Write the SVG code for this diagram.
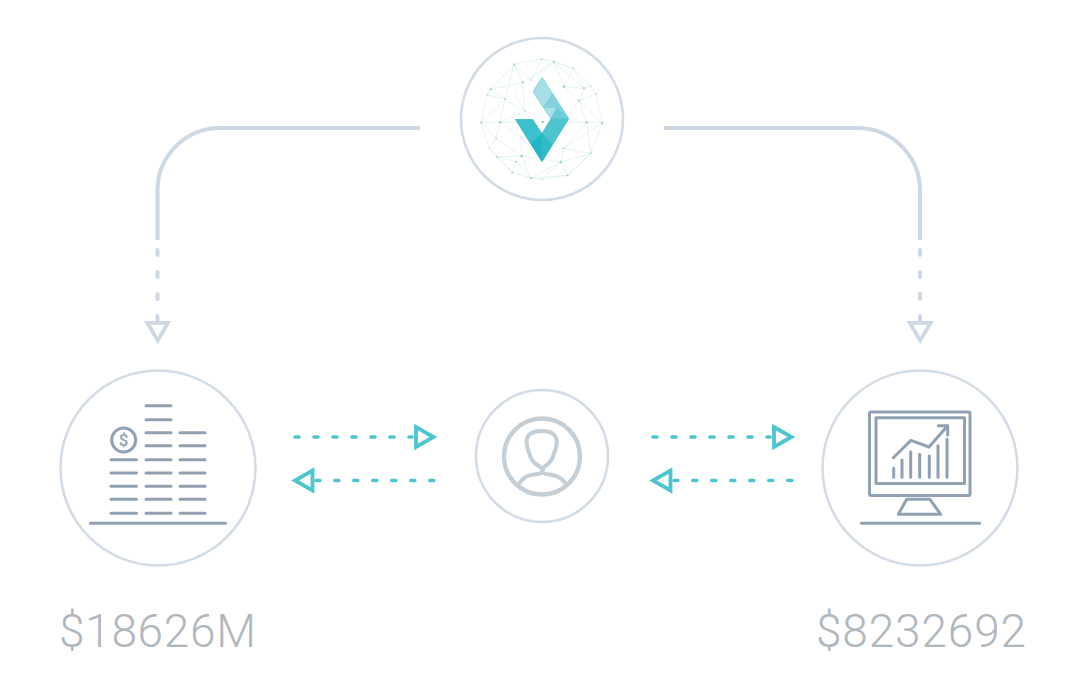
<svg xmlns="http://www.w3.org/2000/svg" width="1076" height="688" viewBox="0 0 1076 688">
<style>
.ring{fill:#fff;stroke:#d2dce7;stroke-width:2.6}
.flow{fill:none;stroke:#cdd8e4;stroke-width:4}
.fdash{fill:none;stroke:#cdd8e4;stroke-width:4;stroke-linecap:round;stroke-dasharray:5 17}
.fhead{fill:none;stroke:#cdd8e4;stroke-width:3.800}
.tdash{fill:none;stroke:#4cc5cf;stroke-width:3.600;stroke-linecap:round;stroke-dasharray:4 15}
.thead{fill:none;stroke:#4cc5cf;stroke-width:3.800}
.ic{fill:none;stroke:#8fa1b3;stroke-width:3;stroke-linecap:round;stroke-linejoin:round}
.val{font-family:"Roboto","Liberation Sans",sans-serif;font-weight:300;font-size:46px;fill:#afb7be}
.mesh{fill:none;stroke:#c4e0e3;stroke-width:1.300}
.dot{fill:#93cbd1}
</style>
<g id="connectors">
<path class="flow" d="M420 128H220A62.500 62.500 0 0 0 157.500 190.500V240"/>
<path class="fdash" d="M157.500 250V320"/>
<path class="fhead" d="M147.300 322.800H168.100L157.700 340.600Z"/>
<path class="flow" d="M664 128H857.500A62.500 62.500 0 0 1 920 190.500V240"/>
<path class="fdash" d="M920 250V320"/>
<path class="fhead" d="M909.800 322.800H930.600L920.200 340.600Z"/>
<path class="tdash" d="M295 437H412"/>
<path class="thead" d="M416 427V447L433.500 437Z"/>
<path class="tdash" d="M433.800 480.500H316"/>
<path class="thead" d="M312.500 470.500V490.500L295 480.500Z"/>
<path class="tdash" d="M653 437H770"/>
<path class="thead" d="M774 427V447L791.500 437Z"/>
<path class="tdash" d="M791.800 480.500H674"/>
<path class="thead" d="M670.500 470.500V490.500L653 480.500Z"/>
</g>
<g id="node-top">
<circle class="ring" cx="542" cy="119" r="81"/>
<g transform="translate(460 30) scale(.33333)">
<path class="mesh" d="M63 277L82 195L92 178L162 103L245 87L282 95L340 115L392 167L408 192L427 280L392 370L323 436L245 448L213 444L157 428L110 380L88 355Z"/>
<path class="mesh" d="M63 277H165M330 277H427M92 178L135 207L120 277L108 325L88 355M92 178L188 157L162 103L135 207M188 157L282 95L213 150L245 87M188 157L195 245L135 207M120 277L195 245M120 277L183 322L185 378L110 380M108 325L185 378L168 395L110 380M63 277L135 207M63 277L108 325M168 395L213 444L185 378L302 396L213 444L323 436L302 396L392 370L310 355L302 396M157 428L168 395M310 355L380 277L392 370M380 277L357 212L408 192M357 212L372 175L312 170L282 95M312 170L357 212L427 280M312 170L340 115L372 175M282 95L372 175M162 103L213 150M183 322L250 400M310 355L427 280M392 167L372 175M82 195L135 207M88 355L157 428M245 448L302 396M323 436L392 370M357 212L300 290M195 245L165 190"/>
<g class="dot"><circle cx="63" cy="277" r="2.500"/><circle cx="82" cy="195" r="2"/><circle cx="92" cy="178" r="3"/><circle cx="162" cy="103" r="3"/><circle cx="245" cy="87" r="2.500"/><circle cx="282" cy="95" r="3"/><circle cx="340" cy="115" r="2.500"/><circle cx="372" cy="175" r="3"/><circle cx="392" cy="167" r="2"/><circle cx="408" cy="192" r="2"/><circle cx="427" cy="280" r="3"/><circle cx="392" cy="370" r="2.500"/><circle cx="323" cy="436" r="2.500"/><circle cx="245" cy="448" r="2"/><circle cx="213" cy="444" r="3"/><circle cx="157" cy="428" r="2.500"/><circle cx="110" cy="380" r="2.500"/><circle cx="88" cy="355" r="2"/><circle cx="120" cy="277" r="3.500"/><circle cx="135" cy="207" r="2.500"/><circle cx="188" cy="157" r="3.500"/><circle cx="213" cy="150" r="2"/><circle cx="312" cy="170" r="3.500"/><circle cx="357" cy="212" r="2.500"/><circle cx="380" cy="277" r="3.500"/><circle cx="310" cy="355" r="2.500"/><circle cx="302" cy="396" r="3.500"/><circle cx="185" cy="378" r="3.500"/><circle cx="168" cy="395" r="2.500"/><circle cx="108" cy="325" r="2.500"/><circle cx="195" cy="245" r="2"/><circle cx="183" cy="322" r="2"/></g>
<path fill="#3fc0cc" d="M246 140L327 266L246 396L165 268H218L246 310L272 266L218 185Z"/>
<path fill="#a6dde6" d="M246 140L218 185L250 232L278 190Z"/>
<path fill="#84d2dd" d="M246 140L278 190L327 266L290 235L250 232L278 190Z"/>
<path fill="#a9dfe6" d="M250 232L290 235L272 266Z"/>
<path fill="#6dcbd6" d="M272 266L290 235L327 266Z"/>
<path fill="#4fc4cf" d="M272 266L327 266L278 345L246 310Z"/>
<path fill="#2cbbc7" d="M246 310L278 345L246 396Z"/>
<path fill="#1fb7c5" d="M246 310L246 396L210 340Z"/>
<path fill="#3dc0cb" d="M165 268H218L246 310L210 340Z"/>
<circle cx="248" cy="276" r="4" fill="#93cbd1"/>
</g>
</g>
<g id="node-left">
<circle class="ring" cx="158" cy="468" r="97.500"/>
<path class="ic" d="M146 405.700H171M146 419.700H171M146 432.700H171M146 445.700H171M146 459.700H171M146 473H171M146 486.300H171M146 499.300H171M146 513.300H171M180 432.700H205M180 445.700H205M180 459.700H205M180 473H205M180 486.300H205M180 499.300H205M180 513.300H205M111 459.700H136.500M111 473H136.500M111 486.300H136.500M111 499.300H136.500M111 513.300H136.500"/>
<path class="ic" d="M90.500 523.300H225.500" stroke-width="3.400"/>
<circle class="ic" cx="123.700" cy="440" r="12"/>
<text x="123.700" y="446" text-anchor="middle" font-family="Roboto,'Liberation Sans',sans-serif" font-size="17" font-weight="500" fill="#8fa1b3">$</text>
</g>
<g id="node-center">
<circle class="ring" cx="542" cy="456" r="66"/>
<circle cx="542" cy="456.500" r="38" fill="none" stroke="#c3ced6" stroke-width="4.400"/>
<g transform="translate(285 385) scale(.33333)">
<path fill="none" stroke="#c3ced6" stroke-width="12" d="M702 298C712 278 730 270 750 268C775 266 778 255 765 245C738 232 735 212 728 190C715 148 742 138 770 138C798 138 825 148 812 190C805 212 802 232 778 245C770 255 768 266 790 268C812 270 830 278 843 296"/>
</g>
</g>
<g id="node-right">
<circle class="ring" cx="920" cy="468" r="97.500"/>
<rect class="ic" x="869.500" y="412" width="100.500" height="83.500" rx="1.500"/>
<rect class="ic" x="876" y="417.800" width="88.500" height="65.800"/>
<path class="ic" d="M906.700 499.300H930L940.700 514.300H898.300Z"/>
<path class="ic" d="M861.500 523.300H979.500"/>
<path class="ic" d="M893.700 468.300V477.300M902 460V477.300M910.700 451.700V477.300M919.700 454.300V477.300M929.300 456V477.300M938 445.700V477.300M947 439.300V477.300"/>
<path class="ic" d="M893.300 457.700L911 440.300L929 447L947.700 425.700M938.300 425.700H947.700V435"/>
</g>
<g id="labels">
<text class="val" x="59" y="647" textLength="197" lengthAdjust="spacing">$18626M</text>
<text class="val" x="816" y="647" textLength="210" lengthAdjust="spacing">$8232692</text>
</g>
</svg>
